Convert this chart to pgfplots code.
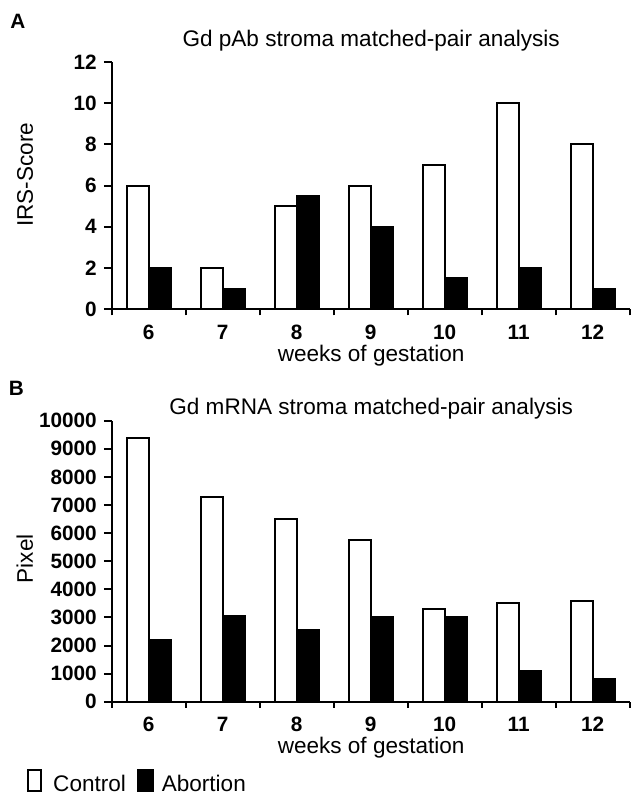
\documentclass[border=0pt]{standalone}
\usepackage{fontspec}
\setmainfont{Liberation Sans}
\usepackage{pgfplots}
\pgfplotsset{compat=1.18}

\pgfplotsset{
  gdbars/.style={
    scale only axis, width=259.5pt, anchor=south west,
    ybar=0pt, bar width=11pt,
    xmin=5.5, xmax=12.5, ymin=0,
    axis x line=bottom, axis y line=left,
    axis line style={-, line width=1pt},
    xtick={6,...,12},
    minor xtick={5.5,6.5,...,12.5},
    major x tick style={draw=none},
    minor tick style={line width=1pt, black},
    ytick style={line width=1pt, black},
    tick align=outside,
    major tick length=4pt, minor tick length=3pt,
    ticklabel style={font=\fontsize{10.4}{12}\selectfont\bfseries},
    xticklabel style={text height=7.4pt, text depth=0pt},
    /pgf/number format/assume math mode=true,
    /pgf/number format/1000 sep={},
    scaled y ticks=false,
    clip=false,
  },
  ctrl/.style={fill=white, draw=black, line width=1pt},
  abort/.style={fill=black, draw=black, line width=1pt},
  ctrlbox/.style={legend image code/.code={\draw[##1] (0.5pt,-3.1pt) rectangle (7pt,7.2pt);}},
  abortbox/.style={legend image code/.code={\draw[##1] (0.5pt,-3.1pt) rectangle (7.85pt,7.2pt);}},
}
\newcommand\txt{\fontsize{11.3}{13.5}\selectfont}

\begin{document}
\begin{tikzpicture}[lbl/.style={inner sep=0pt, font=\txt}]
\path (0pt,0pt) rectangle (316pt,-397pt);

% panel A: immunohistochemistry score
\begin{axis}[gdbars, at={(56pt,-155pt)}, height=124pt,
  ymax=12, ytick={0,2,...,12}]
\addplot[ctrl] coordinates {(6,6) (7,2) (8,5) (9,6) (10,7) (11,10) (12,8)};
\addplot[abort] coordinates {(6,2) (7,1) (8,5.5) (9,4) (10,1.5) (11,2) (12,1)};
\end{axis}

% panel B: in situ hybridisation, pixel counts
\begin{axis}[gdbars, at={(56pt,-351.65pt)}, height=140.8pt,
  ymax=10000, ytick={0,1000,...,10000},
  legend style={at={(axis description cs:-0.1652,-0.3299)}, anchor=south west,
    draw=none, fill=none, inner sep=0pt, legend columns=2, font=\txt,
    nodes={inner sep=0pt},
    /tikz/column 1/.style={column sep=5.85pt},
    /tikz/column 2/.style={column sep=5.65pt},
    /tikz/column 3/.style={column sep=4pt}}]
\addplot[ctrl, ctrlbox]
  coordinates {(6,9400) (7,7300) (8,6500) (9,5750) (10,3300) (11,3500) (12,3600)};
\addplot[abort, abortbox]
  coordinates {(6,2200) (7,3050) (8,2550) (9,3000) (10,3000) (11,1100) (12,800)};
\legend{Control, Abortion}
\end{axis}

\node[lbl, anchor=base west, font=\fontsize{10.4}{12}\selectfont\bfseries] at (5pt,-14.15pt) {A};
\node[lbl, anchor=base] at (186pt,-23.35pt) {Gd pAb stroma matched-pair analysis};
\node[lbl, anchor=base] at (186pt,-181.35pt) {weeks of gestation};
\node[lbl, anchor=base, rotate=90] at (16.5pt,-87.5pt) {IRS-Score};

\node[lbl, anchor=base west, font=\fontsize{10.4}{12}\selectfont\bfseries] at (4.2pt,-198.3pt) {B};
\node[lbl, anchor=base] at (186pt,-207.5pt) {Gd mRNA stroma matched-pair analysis};
\node[lbl, anchor=base] at (186pt,-377.5pt) {weeks of gestation};
\node[lbl, anchor=base, rotate=90] at (16.5pt,-280pt) {Pixel};
\end{tikzpicture}
\end{document}
